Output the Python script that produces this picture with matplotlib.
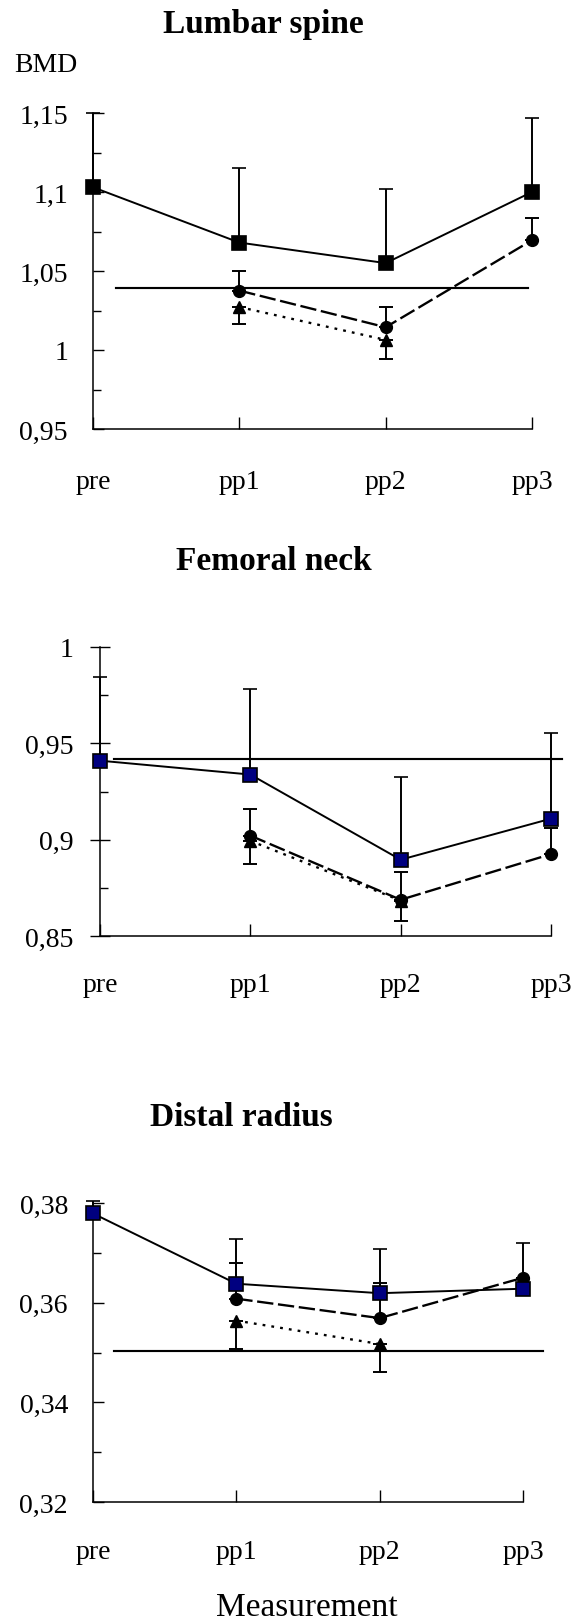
import numpy as np
import matplotlib
matplotlib.use("Agg")
import matplotlib.pyplot as plt
from matplotlib.ticker import MultipleLocator

plt.rcParams['font.family'] = ['Liberation Serif', 'DejaVu Serif']

nan = np.nan
labels = ["pre", "pp1", "pp2", "pp3"]

# lumbar spine
lum_sq = [1.103, 1.068, 1.055, 1.100]
lum_sq_up = [0.047, 0.047, 0.047, 0.047]
lum_ci = [nan, 1.0376, 1.0144, 1.0695]
lum_ci_up = [0, 0.0126, 0.0129, 0.0142]
lum_tr = [nan, 1.0272, 1.0064, nan]
lum_tr_dn = [0, 0.0105, 0.0118, 0]
lum_ref = 1.039
lum_yticks = [0.95, 1.0, 1.05, 1.1, 1.15]
lum_ylabels = ["0,95", "1", "1,05", "1,1", "1,15"]

# femoral neck
fem_sq = [0.941, 0.9338, 0.8896, 0.9109]
fem_sq_up = [0.0433, 0.0442, 0.0430, 0.0447]
fem_ci = [nan, 0.9021, 0.8688, 0.8925]
fem_ci_up = [0, 0.0140, 0.0144, 0.0133]
fem_tr = [nan, 0.8994, 0.8684, nan]
fem_tr_dn = [0, 0.0122, 0.0108, 0]
fem_ref = 0.942
fem_yticks = [0.85, 0.9, 0.95, 1.0]
fem_ylabels = ["0,85", "0,9", "0,95", "1"]

# distal radius
rad_sq = [0.3779, 0.3638, 0.3619, 0.3628]
rad_sq_up = [0.0025, 0.0089, 0.0089, 0.0092]
rad_ci = [nan, 0.3608, 0.3569, 0.365]
rad_ci_up = [0, 0.0072, 0.0071, 0]
rad_tr = [nan, 0.3564, 0.3517, nan]
rad_tr_dn = [0, 0.0056, 0.0057, 0]
rad_ref = 0.3503
rad_yticks = [0.32, 0.34, 0.36, 0.38]
rad_ylabels = ["0,32", "0,34", "0,36", "0,38"]

W, H = 575, 1624
fig = plt.figure(figsize=(W / 100, H / 100), dpi=100)


def box(left, right, top, bottom):
    return [left / W, 1 - bottom / H, (right - left) / W, (bottom - top) / H]


def panel(rect, sq, sq_up, ci, ci_up, tr, tr_dn, ref, ref_span, yticks, ylabels,
          minor, sq_color, xpad, ypad, ydir):
    ax = fig.add_axes(rect)
    x = np.arange(len(labels))
    z = np.zeros(len(x))
    lw = 1.4
    ek = dict(elinewidth=lw, capsize=5, capthick=lw, ecolor='black', clip_on=False)
    ax.errorbar(x, sq, yerr=[z, sq_up], color='black', lw=lw, marker='s', ms=9.5,
                mfc=sq_color, mec='black', mew=1.2, zorder=4, **ek)
    ax.errorbar(x, ci, yerr=[z, ci_up], color='black', lw=lw * 1.2, marker='o', ms=8.5,
                ls=(0, (7, 2)), zorder=3, **ek)
    ax.errorbar(x, tr, yerr=[tr_dn, z], color='black', lw=lw * 1.2, marker='^', ms=9,
                ls=(0, (1.2, 2.6)), zorder=3, **ek)
    ax.plot(ref_span, [ref, ref], color='black', lw=lw * 1.1, clip_on=False, zorder=2)
    ax.set_xlim(0, 3)
    ax.set_ylim(yticks[0], yticks[-1])
    ax.set_xticks(x)
    ax.set_xticklabels(labels, fontsize=20)
    ax.set_yticks(yticks)
    ax.set_yticklabels(ylabels, fontsize=20)
    ax.yaxis.set_minor_locator(MultipleLocator(minor))
    ax.tick_params(axis='x', direction='in', length=9, width=1, pad=xpad)
    ax.tick_params(axis='y', which='major', direction=ydir,
                   length=14 if ydir == 'inout' else 8, width=1, pad=ypad)
    ax.tick_params(axis='y', which='minor', direction='in', length=6, width=1)
    for s in ['top', 'right']:
        ax.spines[s].set_visible(False)
    for s in ['left', 'bottom']:
        ax.spines[s].set_linewidth(1.1)
    return ax


ax1 = panel(box(93, 532, 114, 430), lum_sq, lum_sq_up, lum_ci, lum_ci_up, lum_tr,
            lum_tr_dn, lum_ref, [0.157, 2.97], lum_yticks, lum_ylabels, 0.025,
            'black', 29, 18, 'in')
ax2 = panel(box(100, 551, 648, 937), fem_sq, fem_sq_up, fem_ci, fem_ci_up, fem_tr,
            fem_tr_dn, fem_ref, [0.093, 3.07], fem_yticks, fem_ylabels, 0.025,
            '#000080', 26, 12, 'inout')
ax3 = panel(box(93, 523, 1204, 1503), rad_sq, rad_sq_up, rad_ci, rad_ci_up, rad_tr,
            rad_tr_dn, rad_ref, [0.146, 3.14], rad_yticks, rad_ylabels, 0.01,
            '#000080', 27, 18, 'in')

fig.text(263 / W, 1 - 25 / H, "Lumbar spine", fontsize=24, fontweight='bold',
         ha='center', va='center')
fig.text(46 / W, 1 - 65 / H, "BMD", fontsize=20, ha='center', va='center')
fig.text(274 / W, 1 - 562 / H, "Femoral neck", fontsize=24, fontweight='bold',
         ha='center', va='center')
fig.text(241 / W, 1 - 1118 / H, "Distal radius", fontsize=24, fontweight='bold',
         ha='center', va='center')
fig.text(307 / W, 1 - 1608 / H, "Measurement", fontsize=24, ha='center', va='center')

fig.savefig("out.png", dpi=100)
